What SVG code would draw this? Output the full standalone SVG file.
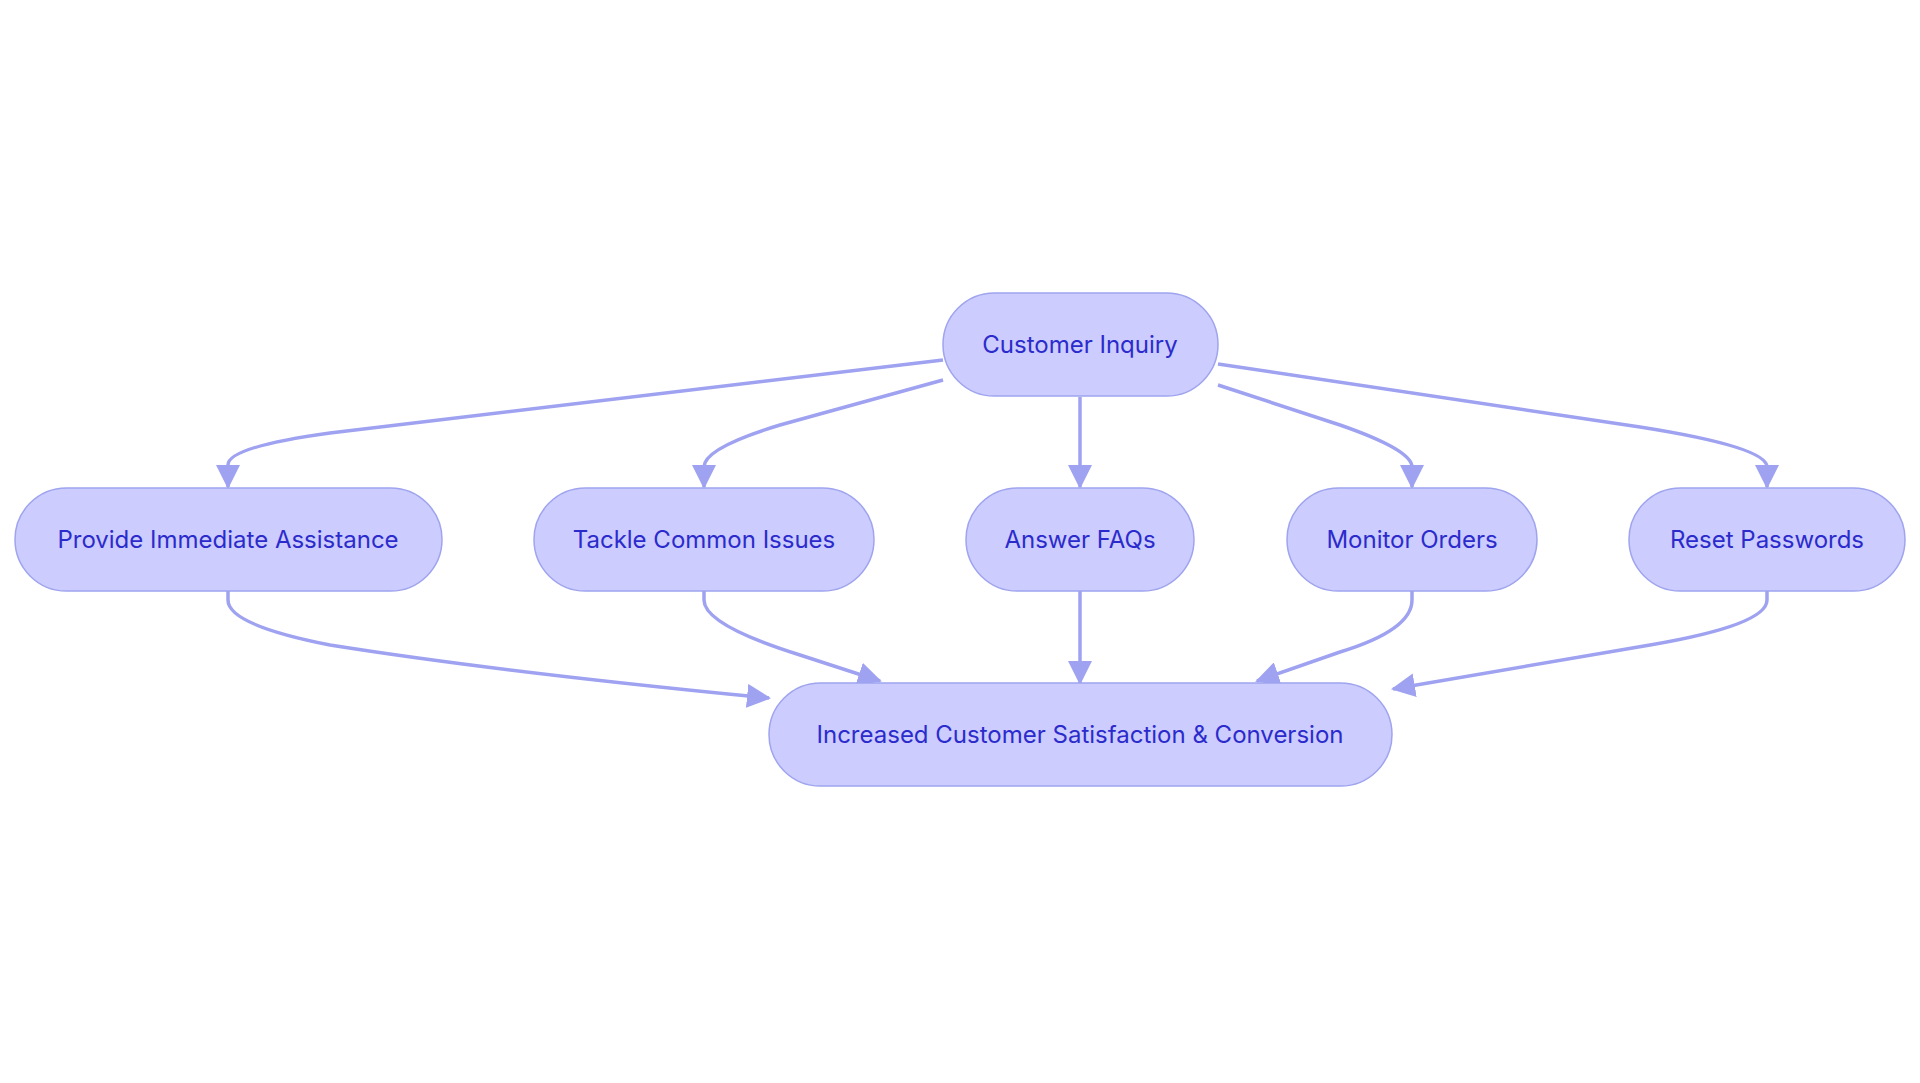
<svg xmlns="http://www.w3.org/2000/svg" width="1920" height="1083" viewBox="0 0 1920 1083">
<style>
.n{fill:#ccccff;stroke:#9fa4ee;stroke-width:1.5}
.t{font-family:Inter,"Liberation Sans",sans-serif;font-size:24px;fill:#2b2bcc;text-anchor:middle;dominant-baseline:central}
.e{fill:none;stroke:#9ea2f0;stroke-width:3.5}
</style>
<defs><marker id="a" markerUnits="userSpaceOnUse" markerWidth="24" markerHeight="24" viewBox="0 0 12 12" refX="11" refY="6" orient="auto"><path d="M0,0L12,6L0,12z" fill="#9ea2f0"/></marker></defs>
<rect width="1920" height="1083" fill="#fff"/>
<g id="edges">
<path class="e" marker-end="url(#a)" d="M943,360 L330,433 Q228,447 228,465 L228,487"/>
<path class="e" marker-end="url(#a)" d="M943,380 L780,425 Q704,448 704,467 L704,487"/>
<path class="e" marker-end="url(#a)" d="M1080,397 L1080,487"/>
<path class="e" marker-end="url(#a)" d="M1218,385 L1340,425 Q1412,450 1412,467 L1412,487"/>
<path class="e" marker-end="url(#a)" d="M1218,364 L1640,427 Q1767,447 1767,467 L1767,487"/>
<path class="e" marker-end="url(#a)" d="M228,591 L228,600 Q228,625 330,645 Q500,672 769,698"/>
<path class="e" marker-end="url(#a)" d="M704,591 L704,600 Q704,625 800,655 L880,681"/>
<path class="e" marker-end="url(#a)" d="M1080,591 L1080,683"/>
<path class="e" marker-end="url(#a)" d="M1412,591 L1412,600 Q1412,630 1340,652 L1257,681"/>
<path class="e" marker-end="url(#a)" d="M1767,591 L1767,600 Q1767,625 1650,645 L1393,689"/>
</g>
<g id="ci"><rect class="n" x="943" y="293" width="275" height="103" rx="51.5"/><text class="t" x="1080" y="344">Customer Inquiry</text></g>
<g id="provide"><rect class="n" x="15" y="488" width="427" height="103" rx="51.5"/><text class="t" x="228" y="539">Provide Immediate Assistance</text></g>
<g id="tackle"><rect class="n" x="534" y="488" width="340" height="103" rx="51.5"/><text class="t" x="704" y="539">Tackle Common Issues</text></g>
<g id="faq"><rect class="n" x="966" y="488" width="228" height="103" rx="51.5"/><text class="t" x="1080" y="539">Answer FAQs</text></g>
<g id="monitor"><rect class="n" x="1287" y="488" width="250" height="103" rx="51.5"/><text class="t" x="1412" y="539">Monitor Orders</text></g>
<g id="reset"><rect class="n" x="1629" y="488" width="276" height="103" rx="51.5"/><text class="t" x="1767" y="539">Reset Passwords</text></g>
<g id="result"><rect class="n" x="769" y="683" width="623" height="103" rx="51.5"/><text class="t" x="1080" y="734">Increased Customer Satisfaction &amp; Conversion</text></g>
</svg>
